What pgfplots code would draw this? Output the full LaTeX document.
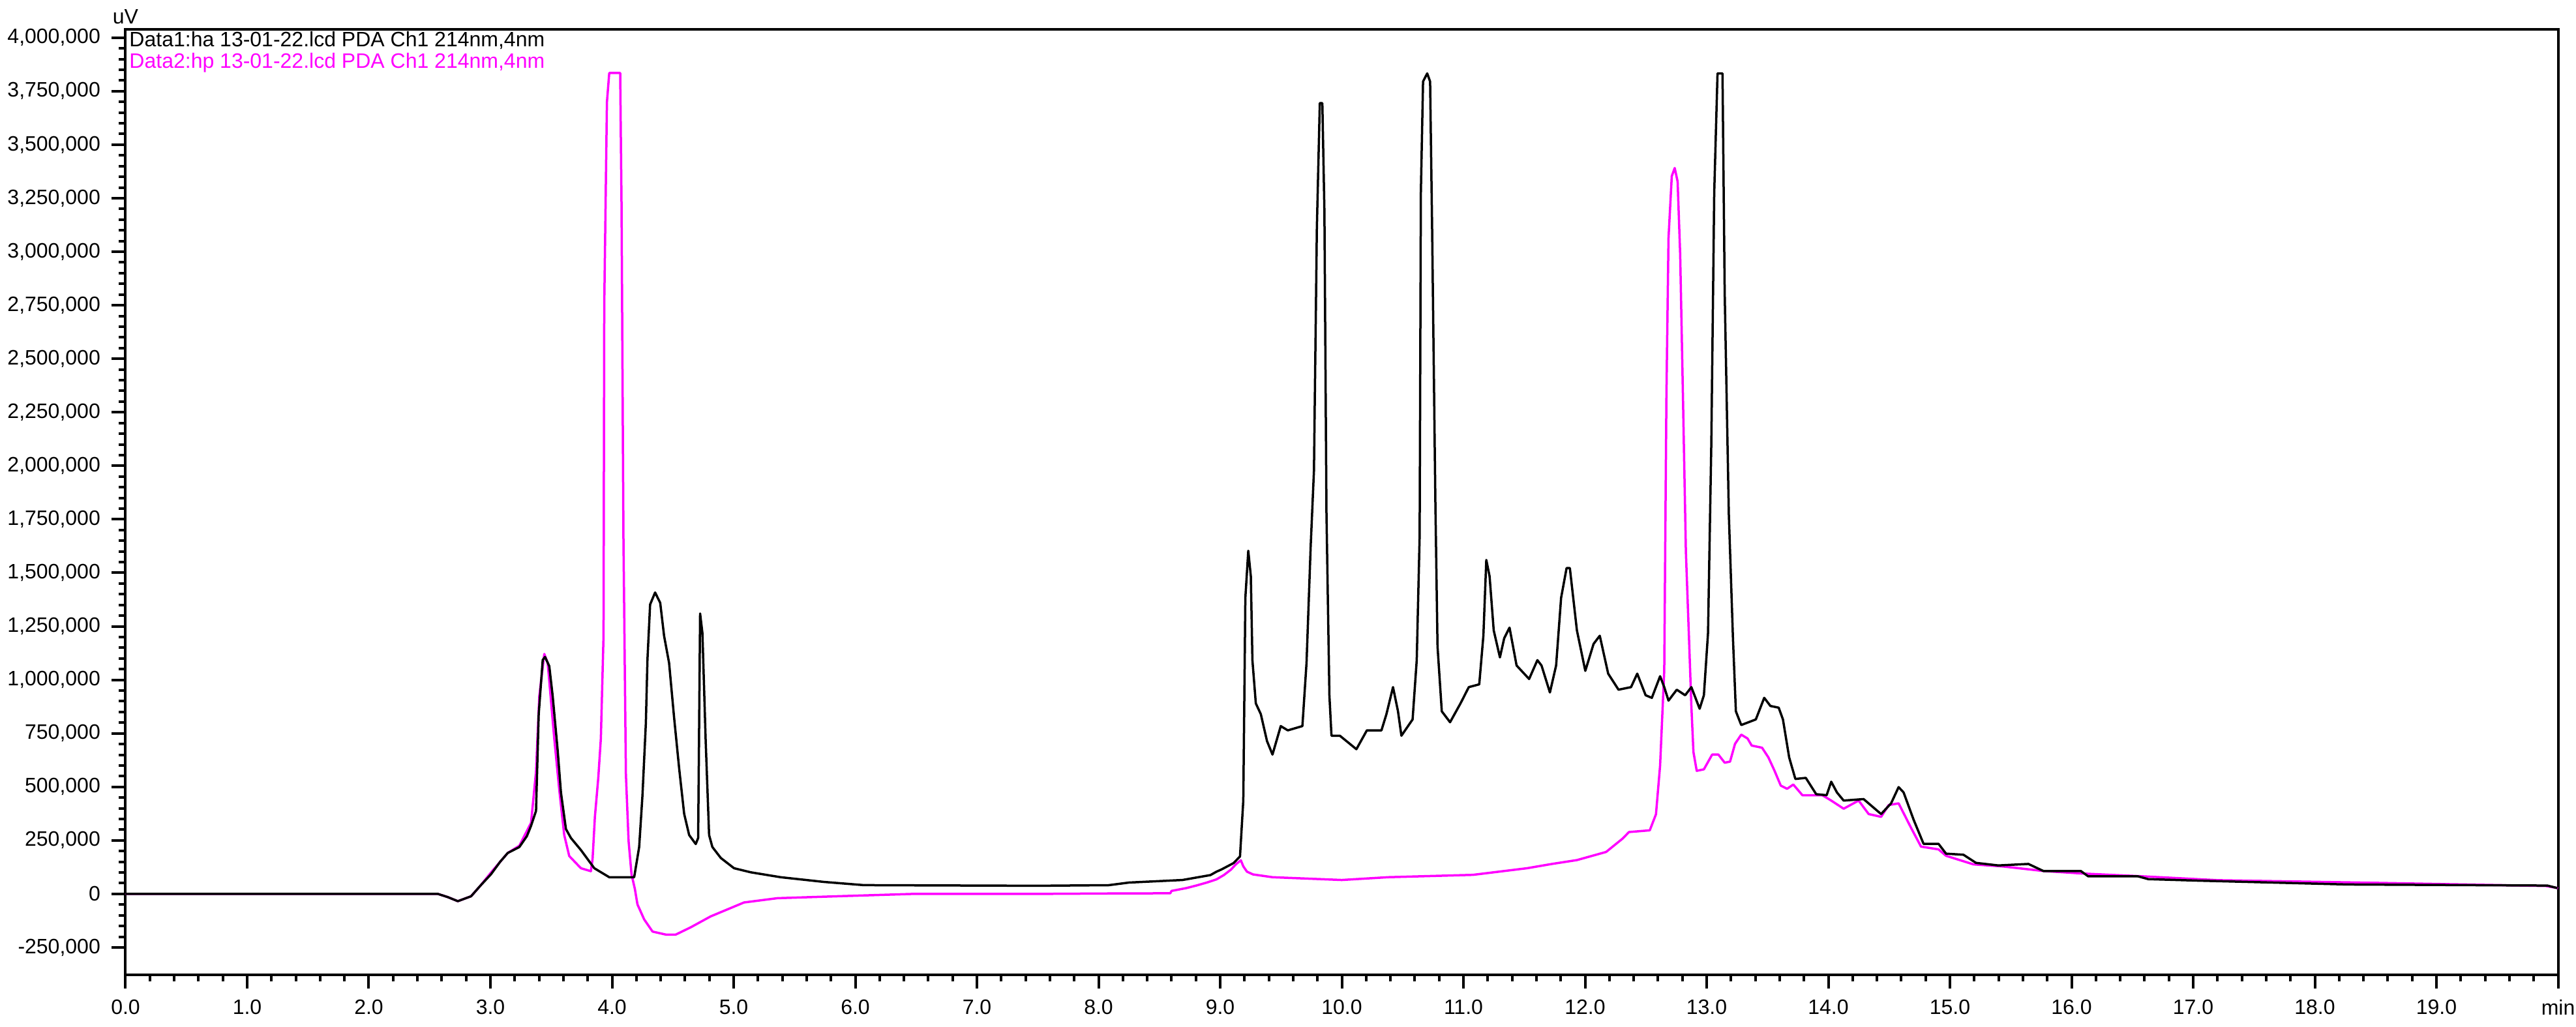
\documentclass[border=0pt]{standalone}
\usepackage{fontspec}
\setmainfont{Liberation Sans}
\usepackage{pgfplots}
\pgfplotsset{compat=1.18}
\definecolor{mag}{RGB}{255,0,255}
\begin{document}
\begin{tikzpicture}
\begin{axis}[
 at={(0,0)}, anchor=south west,
 scale only axis, width=746pt, height=290pt,
 xmin=0, xmax=20, ymin=-378000, ymax=4039000,
 axis line style={line width=0.8pt},
 tick align=outside, tick style={line width=0.8pt, black},
 xtick pos=bottom, ytick pos=left,
 major tick length=4.2pt, minor tick length=2.1pt,
 xtick={0,1,...,20},
 xticklabels={0.0,1.0,2.0,3.0,4.0,5.0,6.0,7.0,8.0,9.0,10.0,11.0,12.0,13.0,14.0,15.0,16.0,17.0,18.0,19.0,min},
 minor x tick num=4,
 ytick={-250000,0,250000,500000,750000,1000000,1250000,1500000,1750000,2000000,2250000,2500000,2750000,3000000,3250000,3500000,3750000,4000000},
 minor y tick num=4,
 scaled y ticks=false,
 yticklabel style={/pgf/number format/.cd, fixed, precision=0, 1000 sep={,}, assume math mode=true},
 ticklabel style={font=\fontsize{6.4}{7}\selectfont},
 every axis plot/.append style={line width=0.7pt, line join=round},
]
\addplot[mag] coordinates {(0,0) (2.568,0) (2.65,-15000) (2.732,-34000) (2.841,-11000) (2.92,40000) (3.005,100000) (3.08,150000) (3.142,191000) (3.238,225000) (3.334,332000) (3.375,571000) (3.402,924000) (3.443,1121000) (3.471,1079000) (3.525,726000) (3.566,487000) (3.607,275000) (3.648,177000) (3.744,120000) (3.826,106000) (3.84,163000) (3.859,360000) (3.887,543000) (3.908,726000) (3.93,1205000) (3.936,2755000) (3.958,3699000) (3.977,3835000) (4.067,3835000) (4.078,3220000) (4.094,1642000) (4.114,557000) (4.136,247000) (4.16,92000) (4.188,22000) (4.209,-49000) (4.264,-119000) (4.333,-176000) (4.442,-190000) (4.524,-190000) (4.647,-156000) (4.811,-105000) (5.085,-40000) (5.359,-20000) (5.851,-11000) (6.475,0) (7.5,0) (8.084,2000) (8.59,3000) (8.6,14000) (8.72,27000) (8.81,40000) (8.89,53000) (8.97,68000) (9.03,88000) (9.09,114000) (9.13,139000) (9.17,157000) (9.19,129000) (9.22,104000) (9.27,91000) (9.43,78000) (10.0,65000) (10.38,78000) (11.078,89000) (11.523,120000) (11.728,140000) (11.933,158000) (12.173,196000) (12.31,259000) (12.361,289000) (12.532,297000) (12.583,372000) (12.617,600000) (12.651,1042000) (12.669,2330000) (12.686,3063000) (12.713,3353000) (12.737,3391000) (12.761,3328000) (12.782,2987000) (12.805,2318000) (12.829,1598000) (12.857,1156000) (12.874,878000) (12.891,663000) (12.918,575000) (12.977,582000) (13.045,651000) (13.096,651000) (13.148,613000) (13.192,618000) (13.233,701000) (13.284,744000) (13.336,726000) (13.37,693000) (13.455,683000) (13.507,638000) (13.558,575000) (13.609,506000) (13.661,491000) (13.712,511000) (13.787,461000) (13.951,461000) (14.024,436000) (14.126,398000) (14.249,436000) (14.332,373000) (14.434,360000) (14.496,415000) (14.578,423000) (14.68,309000) (14.762,221000) (14.906,208000) (14.968,178000) (15.193,138000) (15.44,128000) (15.768,107000) (16.096,95000) (16.589,82000) (17.204,64000) (18.476,52000) (19.9,37000) (20,27000)};
\addplot[black] coordinates {(0,0) (2.568,0) (2.65,-15000) (2.732,-34000) (2.841,-11000) (2.92,40000) (3.005,92000) (3.08,150000) (3.142,191000) (3.238,219000) (3.30,270000) (3.334,318000) (3.375,388000) (3.397,839000) (3.43,1093000) (3.449,1107000) (3.484,1064000) (3.512,924000) (3.553,670000) (3.58,473000) (3.621,303000) (3.662,261000) (3.744,205000) (3.854,120000) (3.977,78000) (4.182,78000) (4.223,219000) (4.25,459000) (4.278,797000) (4.291,1093000) (4.313,1352000) (4.354,1408000) (4.396,1360000) (4.428,1205000) (4.469,1079000) (4.51,825000) (4.552,585000) (4.593,374000) (4.634,275000) (4.688,233000) (4.708,261000) (4.724,1310000) (4.743,1219000) (4.77,712000) (4.798,275000) (4.825,219000) (4.894,168000) (5.003,120000) (5.14,101000) (5.386,78000) (5.742,56000) (6.07,41000) (6.5,40000) (7.5,38000) (8.084,40800) (8.25,53000) (8.69,65000) (8.82,78000) (8.92,88000) (8.97,104000) (9.01,114000) (9.06,129000) (9.11,144000) (9.163,175000) (9.19,436000) (9.207,1383000) (9.231,1603000) (9.252,1484000) (9.265,1092000) (9.293,890000) (9.334,840000) (9.385,714000) (9.43,651000) (9.498,784000) (9.556,764000) (9.676,784000) (9.71,1080000) (9.744,1623000) (9.771,1977000) (9.795,3113000) (9.819,3694000) (9.840,3694000) (9.857,3189000) (9.874,1774000) (9.898,928000) (9.915,739000) (9.984,739000) (10.12,676000) (10.206,764000) (10.326,764000) (10.367,840000) (10.421,966000) (10.462,853000) (10.49,739000) (10.582,815000) (10.616,1092000) (10.64,1673000) (10.65,3277000) (10.668,3795000) (10.702,3833000) (10.726,3795000) (10.743,3088000) (10.77,1800000) (10.787,1156000) (10.822,853000) (10.89,802000) (10.976,890000) (11.044,966000) (11.13,979000) (11.164,1206000) (11.188,1560000) (11.215,1484000) (11.249,1231000) (11.30,1105000) (11.335,1194000) (11.379,1244000) (11.437,1067000) (11.54,1004000) (11.608,1092000) (11.642,1067000) (11.711,941000) (11.762,1067000) (11.803,1383000) (11.848,1522000) (11.875,1522000) (11.933,1231000) (12.002,1042000) (12.07,1168000) (12.121,1206000) (12.19,1029000) (12.275,954000) (12.378,966000) (12.429,1029000) (12.498,928000) (12.549,916000) (12.617,1017000) (12.651,966000) (12.686,903000) (12.754,954000) (12.823,928000) (12.874,966000) (12.942,865000) (12.977,928000) (13.011,1219000) (13.038,2103000) (13.062,3277000) (13.089,3833000) (13.13,3833000) (13.148,2810000) (13.182,1774000) (13.216,1194000) (13.24,853000) (13.284,789000) (13.404,815000) (13.473,916000) (13.524,878000) (13.592,870000) (13.627,815000) (13.678,638000) (13.729,537000) (13.815,542000) (13.9,466000) (13.986,461000) (14.024,524000) (14.071,474000) (14.126,436000) (14.29,443000) (14.434,373000) (14.516,423000) (14.578,499000) (14.619,474000) (14.701,347000) (14.783,234000) (14.906,234000) (14.968,188000) (15.111,183000) (15.214,145000) (15.398,133000) (15.645,140000) (15.768,107000) (16.076,107000) (16.137,82000) (16.547,82000) (16.63,69000) (17.04,62000) (18.271,44000) (19.912,39000) (19.995,27000)};
\node[anchor=base west, inner sep=0pt, xshift=1pt, yshift=-5.3pt, font=\fontsize{6.4}{7}\selectfont, text=black] at (rel axis cs:0,1) {Data1:ha 13-01-22.lcd PDA Ch1 214nm,4nm};
\node[anchor=base west, inner sep=0pt, xshift=1pt, yshift=-12pt, font=\fontsize{6.4}{7}\selectfont, text=mag] at (rel axis cs:0,1) {Data2:hp 13-01-22.lcd PDA Ch1 214nm,4nm};
\end{axis}
\node[anchor=south, inner sep=0pt, font=\fontsize{6.4}{7}\selectfont] at (0pt,291.4pt) {uV};
\pgfresetboundingbox
\useasboundingbox (-38.5pt,-16pt) rectangle (751.5pt,299pt);
\end{tikzpicture}
\end{document}
